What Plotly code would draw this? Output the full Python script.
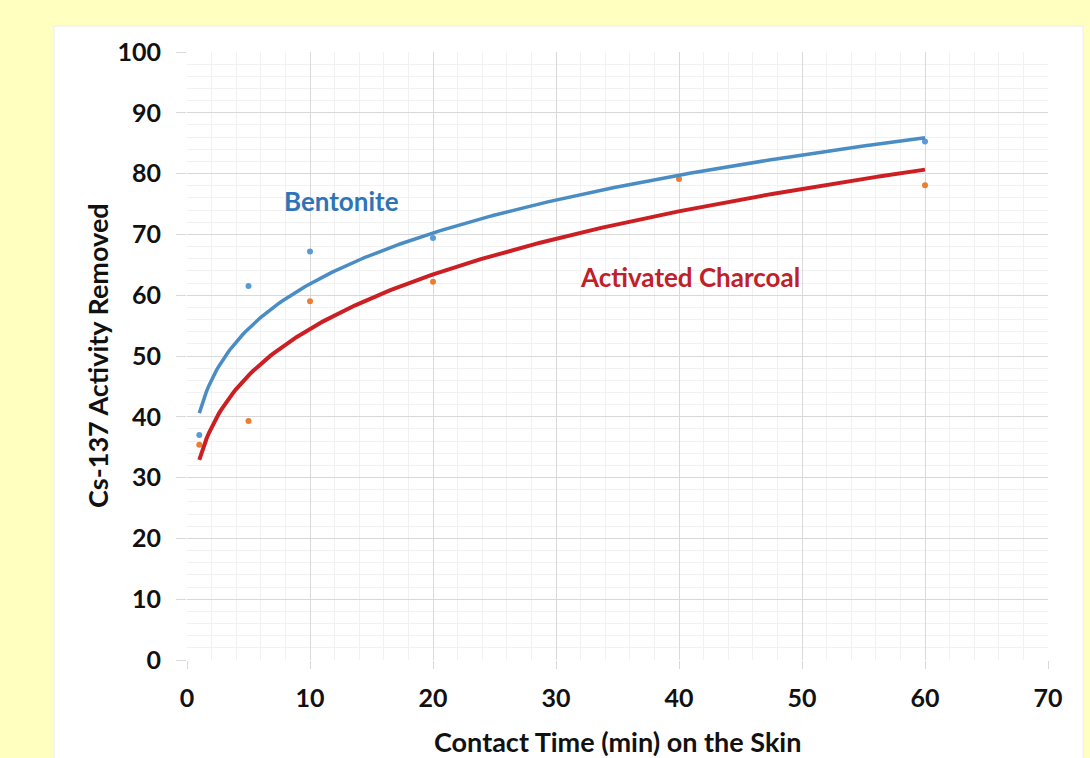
import numpy as np
import plotly.graph_objects as go

# ---- data ----
bent_x = [1, 5, 10, 20, 60]
bent_y = [37.0, 61.5, 67.2, 69.4, 85.3]
char_x = [1, 5, 10, 20, 40, 60]
char_y = [35.4, 39.3, 59.0, 62.2, 79.1, 78.1]

# power trendlines (y = c * x^p), coefficients
bent_trend = {"c": 40.6, "p": 0.183}
char_trend = {"c": 32.9, "p": 0.219}
trend_x_range = [1, 60]

x_ticks = [0, 10, 20, 30, 40, 50, 60, 70]
y_ticks = [0, 10, 20, 30, 40, 50, 60, 70, 80, 90, 100]

FONT = "Lato"
BLUE_PT = "#5B9BD5"
ORANGE_PT = "#ED7D31"
BLUE_LINE = "#4A8CC4"
RED_LINE = "#CC1F24"

tx = np.linspace(trend_x_range[0], trend_x_range[1], 300)

fig = go.Figure()
fig.add_trace(go.Scatter(x=bent_x, y=bent_y, mode="markers",
                         marker=dict(color=BLUE_PT, size=6), showlegend=False))
fig.add_trace(go.Scatter(x=char_x, y=char_y, mode="markers",
                         marker=dict(color=ORANGE_PT, size=6), showlegend=False))
fig.add_trace(go.Scatter(x=tx, y=bent_trend["c"] * tx ** bent_trend["p"], mode="lines",
                         line=dict(color=BLUE_LINE, width=3.5), showlegend=False))
fig.add_trace(go.Scatter(x=tx, y=char_trend["c"] * tx ** char_trend["p"], mode="lines",
                         line=dict(color=RED_LINE, width=4), showlegend=False))

L, R, T, B = 187, 42, 52, 98
W, H = 1090, 758
pw, ph = W - L - R, H - T - B

def px_x(p):
    return (p - L) / pw

def px_y(p):
    return (H - B - p) / ph

fig.add_shape(type="rect", xref="paper", yref="paper",
              x0=px_x(54), x1=px_x(1083), y0=px_y(770), y1=px_y(26),
              fillcolor="white", line=dict(color="#EDEDED", width=1), layer="below")

fig.add_annotation(x=12.6, y=75.5, text="Bentonite", showarrow=False,
                   font=dict(family=FONT, size=26, color="#2F75B5", weight="bold"))
fig.add_annotation(x=40.9, y=63.0, text="Activated Charcoal", showarrow=False,
                   font=dict(family=FONT, size=26, color="#C0202A", weight="bold"))

tickfont = dict(family=FONT, size=25, color="#111111", weight="bold")
titlefont = dict(family=FONT, size=27, color="#111111", weight="bold")

# axis titles placed at the reference's pixel positions
fig.add_annotation(xref="paper", yref="paper", x=0.5, y=px_y(741),
                   text="Contact Time (min) on the Skin", showarrow=False,
                   font=titlefont, xanchor="center", yanchor="middle")
fig.add_annotation(xref="paper", yref="paper", x=px_x(97), y=0.5,
                   text="Cs-137 Activity Removed", showarrow=False, textangle=-90,
                   font=titlefont, xanchor="center", yanchor="middle")

fig.update_xaxes(range=[0, 70], tickvals=x_ticks, ticktext=[str(v) for v in x_ticks],
                 showgrid=True, gridcolor="#D9D9D9", gridwidth=1,
                 minor=dict(dtick=2, showgrid=True, gridcolor="#F1F1F1"),
                 ticks="outside", ticklen=8, tickcolor="#D9D9D9", ticklabelstandoff=8,
                 showline=False, zeroline=False, tickfont=tickfont, automargin=False)
fig.update_yaxes(range=[0, 100], tickvals=y_ticks, ticktext=[str(v) for v in y_ticks],
                 showgrid=True, gridcolor="#D9D9D9", gridwidth=1,
                 minor=dict(dtick=2, showgrid=True, gridcolor="#F1F1F1"),
                 ticks="outside", ticklen=10, tickcolor="#D9D9D9", ticklabelstandoff=10,
                 showline=False, zeroline=False, tickfont=tickfont, automargin=False)

fig.update_layout(width=W, height=H, margin=dict(l=L, r=R, t=T, b=B),
                  paper_bgcolor="#FFFFBF", plot_bgcolor="white")

fig.write_html("out.html")
